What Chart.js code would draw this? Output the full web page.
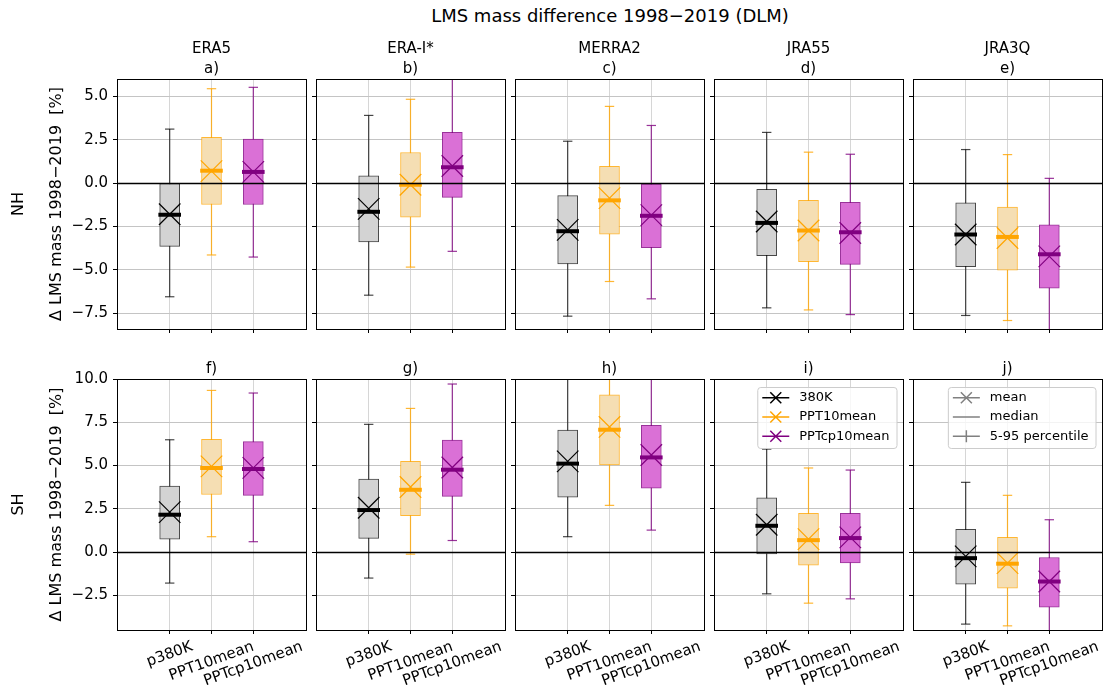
<!DOCTYPE html>
<html>
<head>
<meta charset="utf-8">
<script src="https://cdn.jsdelivr.net/npm/chart.js@4.4.1/dist/chart.umd.min.js"></script>
<style>
  body { margin: 0; background: #fff; }
  #wrap { position: relative; width: 1108px; height: 696px; overflow: hidden; font-family: 'DejaVu Sans', sans-serif; }
  #suptitle { position: absolute; left: 110px; width: 1000px; top: 5px; text-align: center; font-size: 18px; color: #000; }
</style>
</head>
<body>
<div id="wrap"><div id="suptitle">LMS mass difference 1998−2019 (DLM)</div></div>
<script>
/* LMS mass difference boxplots — 2 hemispheres x 5 reanalyses */

Chart.defaults.font.family = "'DejaVu Sans', sans-serif";
Chart.defaults.font.size = 15;
Chart.defaults.color = '#000';

var CATEGORIES = ['p380K', 'PPT10mean', 'PPTcp10mean'];
var REANALYSES = ['ERA5', 'ERA-I*', 'MERRA2', 'JRA55', 'JRA3Q'];
var LETTERS = [['a)', 'b)', 'c)', 'd)', 'e)'], ['f)', 'g)', 'h)', 'i)', 'j)']];
var ROW_LABELS = ['NH', 'SH'];
var Y_TITLE = 'Δ LMS mass 1998−2019  [%]';
var LEGEND_SERIES = ['380K', 'PPT10mean', 'PPTcp10mean'];
var LEGEND_STATS = ['mean', 'median', '5-95 percentile'];

// y ticks and ranges per row
var NH_TICKS = [-7.5, -5, -2.5, 0, 2.5, 5];
var SH_TICKS = [-2.5, 0, 2.5, 5, 7.5, 10];
var NH_RANGE = [-8.42, 6.0];
var SH_RANGE = [-4.5, 10.0];

// rows: ERA5, ERA-I*, MERRA2, JRA55, JRA3Q ; columns: p380K, PPT10mean, PPTcp10mean
var NH_P05  = [[-6.56, -4.15, -4.27], [-6.47, -4.85, -3.94], [-7.68, -5.68, -6.68], [-7.20, -7.32, -7.59], [-7.64, -7.93, -8.90]];
var NH_Q25  = [[-3.65, -1.24, -1.24], [-3.40, -1.97, -0.83], [-4.67, -2.95, -3.73], [-4.19, -4.54, -4.69], [-4.83, -5.02, -6.06]];
var NH_MED  = [[-1.83, 0.71, 0.64], [-1.66, -0.10, 0.91], [-2.78, -1.00, -1.89], [-2.30, -2.74, -2.84], [-2.97, -3.11, -4.11]];
var NH_MEAN = [[-1.80, 0.69, 0.64], [-1.49, -0.10, 0.98], [-2.70, -0.87, -1.85], [-2.22, -2.74, -2.88], [-2.97, -3.17, -4.23]];
var NH_Q75  = [[0.00, 2.63, 2.53], [0.42, 1.76, 2.92], [-0.73, 0.97, -0.06], [-0.37, -1.00, -1.12], [-1.14, -1.39, -2.41]];
var NH_P95  = [[3.11, 5.44, 5.52], [3.90, 4.83, 6.30], [2.41, 4.42, 3.32], [2.92, 1.78, 1.66], [1.93, 1.64, 0.27]];

var SH_P05  = [[-1.79, 0.89, 0.60], [-1.50, -0.12, 0.67], [0.89, 2.70, 1.27], [-2.41, -2.95, -2.70], [-4.16, -4.26, -4.90]];
var SH_Q25  = [[0.75, 3.33, 3.28], [0.79, 2.10, 3.22], [3.18, 5.03, 3.70], [-0.10, -0.75, -0.62], [-1.85, -2.08, -3.18]];
var SH_MED  = [[2.16, 4.86, 4.80], [2.43, 3.60, 4.76], [5.11, 7.07, 5.47], [1.52, 0.69, 0.81], [-0.35, -0.67, -1.70]];
var SH_MEAN = [[2.31, 4.95, 4.87], [2.56, 3.76, 4.89], [5.24, 7.23, 5.61], [1.58, 0.75, 0.85], [-0.25, -0.64, -1.70]];
var SH_Q75  = [[3.82, 6.51, 6.38], [4.22, 5.24, 6.47], [7.05, 9.09, 7.32], [3.14, 2.24, 2.24], [1.31, 0.85, -0.31]];
var SH_P95  = [[6.49, 9.34, 9.19], [7.38, 8.30, 9.71], [10.6, 10.9, 10.4], [5.95, 4.86, 4.74], [4.03, 3.28, 1.87]];

var ROWS = [
  { p05: NH_P05, q25: NH_Q25, med: NH_MED, mean: NH_MEAN, q75: NH_Q75, p95: NH_P95, ticks: NH_TICKS, range: NH_RANGE },
  { p05: SH_P05, q25: SH_Q25, med: SH_MED, mean: SH_MEAN, q75: SH_Q75, p95: SH_P95, ticks: SH_TICKS, range: SH_RANGE }
];

var MAIN = ['#000000', '#ffa500', '#800080'];
var EDGE = ['rgba(0,0,0,0.72)', 'rgba(255,165,0,0.8)', 'rgba(128,0,128,0.8)'];
var FILL = ['#d3d3d3', '#f5deb3', '#da70d6'];
var STAT_GRAY = '#808080';

// layout (px)
var COL_LEFT = [117, 316, 515, 714, 913];
var PANEL_W = 189;
var ROW_TOP = [79, 379];
var PANEL_H = [250, 251];
var CANVAS_TOP = [33, 355];
var CANVAS_BOTTOM = [352, 696];
var X_MIN = -1.26, X_MAX = 3.26;
var FONT = "15px 'DejaVu Sans', sans-serif";
var LABEL_FONT = "16px 'DejaVu Sans', sans-serif";
var LEGEND_FONT = "13px 'DejaVu Sans', sans-serif";

function fmtTick(v) {
  return (v < 0 ? '\u2212' : '') + Math.abs(v).toFixed(1);
}

function drawLegend(ctx, a, items) {
  ctx.font = LEGEND_FONT;
  var tw = 0;
  items.forEach(function(it) { tw = Math.max(tw, ctx.measureText(it.label).width); });
  var bw = 42 + tw + 7, bh = 61;
  var bx = a.right - 6.5 - bw, by = a.top + 8;
  ctx.fillStyle = 'rgba(255,255,255,0.8)';
  ctx.strokeStyle = '#cccccc';
  ctx.lineWidth = 1;
  ctx.beginPath();
  ctx.roundRect(bx + 0.5, by + 0.5, bw, bh, 3);
  ctx.fill();
  ctx.stroke();
  items.forEach(function(it, k) {
    var y = by + 10.7 + k * 19.3, mx = bx + 18.5;
    ctx.strokeStyle = it.color;
    ctx.lineWidth = 1.5;
    ctx.beginPath();
    ctx.moveTo(bx + 5, y); ctx.lineTo(bx + 32, y);
    if (it.marker === 'x') {
      ctx.moveTo(mx - 5.5, y - 5.5); ctx.lineTo(mx + 5.5, y + 5.5);
      ctx.moveTo(mx - 5.5, y + 5.5); ctx.lineTo(mx + 5.5, y - 5.5);
    } else if (it.marker === '|') {
      ctx.moveTo(mx, y - 6); ctx.lineTo(mx, y + 6);
    }
    ctx.stroke();
    ctx.fillStyle = '#000';
    ctx.textAlign = 'left';
    ctx.textBaseline = 'middle';
    ctx.fillText(it.label, bx + 42, y);
  });
}

var panelDeco = {
  id: 'panelDeco',
  afterDatasetsDraw: function(chart) {
    var a = chart.chartArea, ctx = chart.ctx;
    var y0 = Math.round(chart.scales.y.getPixelForValue(0)) + 0.5;
    ctx.save();
    ctx.strokeStyle = '#000';
    ctx.lineWidth = 1.3;
    ctx.beginPath();
    ctx.moveTo(a.left, y0); ctx.lineTo(a.right, y0);
    ctx.stroke();
    ctx.lineWidth = 1;
    ctx.strokeRect(Math.round(a.left) + 0.5, Math.round(a.top) + 0.5, Math.round(a.width), Math.round(a.height));
    ctx.restore();
  },
  afterDraw: function(chart, args, o) {
    var a = chart.chartArea, ctx = chart.ctx;
    ctx.save();
    ctx.font = FONT;
    ctx.fillStyle = '#000';
    ctx.textAlign = 'center';
    ctx.textBaseline = 'middle';
    var cx = (a.left + a.right) / 2;
    o.title.forEach(function(t, i) {
      ctx.fillText(t, cx, a.top - 10 - (o.title.length - 1 - i) * 19.5);
    });
    if (o.xLabels) {
      var xs = chart.scales.x, ang = 20 * Math.PI / 180;
      CATEGORIES.forEach(function(c, i) {
        var w = ctx.measureText(c).width;
        var bh = w * Math.sin(ang) + 17.5 * Math.cos(ang);
        ctx.save();
        ctx.translate(xs.getPixelForValue(i), a.bottom + 8 + bh / 2);
        ctx.rotate(-ang);
        ctx.fillText(c, 0, 0);
        ctx.restore();
      });
    }
    if (o.rowLabel) {
      var cy = (a.top + a.bottom) / 2;
      ctx.font = LABEL_FONT;
      [[o.rowLabel, 19], [Y_TITLE, 57]].forEach(function(p) {
        ctx.save();
        ctx.translate(p[1], cy);
        ctx.rotate(-Math.PI / 2);
        ctx.fillText(p[0], 0, 0);
        ctx.restore();
      });
    }
    if (o.legend) drawLegend(ctx, a, o.legend);
    ctx.restore();
  }
};

function pts(arr) {
  return arr.map(function(v, i) { return { x: i, y: v }; });
}

function makePanel(row, col) {
  var wrap = document.getElementById('wrap');
  var left = COL_LEFT[col], top = ROW_TOP[row], ph = PANEL_H[row];
  var cl = col === 0 ? 0 : left - 8, ct = CANVAS_TOP[row];
  var padL = left - cl, padT = top - ct, padR = 6;
  var cw = padL + PANEL_W + padR, chh = CANVAS_BOTTOM[row] - ct;
  var padB = chh - padT - ph;
  var cv = document.createElement('canvas');
  cv.width = cw; cv.height = chh;
  cv.style.cssText = 'position:absolute;left:' + cl + 'px;top:' + ct + 'px;width:' + cw + 'px;height:' + chh + 'px';
  wrap.appendChild(cv);

  var s = ROWS[row];
  var p05 = s.p05[col], q25 = s.q25[col], med = s.med[col], mean = s.mean[col], q75 = s.q75[col], p95 = s.p95[col];

  var datasets = [];
  CATEGORIES.forEach(function(c, i) {
    datasets.push({ type: 'line', data: [{ x: i, y: p05[i] }, { x: i, y: p95[i] }], borderColor: EDGE[i], borderWidth: 1.2, pointRadius: 0, order: 6, clip: 0 });
  });
  datasets.push({ type: 'line', data: pts(p05).concat(pts(p95)), showLine: false, pointStyle: 'line', pointRadius: 4.7, pointBorderWidth: 1.2, pointBorderColor: EDGE.concat(EDGE), order: 5, clip: 0 });
  datasets.push({ type: 'bar', data: q25.map(function(v, i) { return { x: i, y: [v, q75[i]] }; }), backgroundColor: FILL, borderColor: EDGE, borderWidth: 1, borderSkipped: false, barThickness: 20, order: 4, clip: 0 });
  datasets.push({ type: 'line', data: pts(med), showLine: false, pointStyle: 'line', pointRadius: 11.3, pointBorderWidth: 4, pointBorderColor: MAIN, order: 2, clip: 0 });
  datasets.push({ type: 'line', data: pts(mean), showLine: false, pointStyle: 'crossRot', pointRadius: 15.2, pointBorderWidth: 1.2, pointBorderColor: MAIN, pointBackgroundColor: 'rgba(0,0,0,0)', order: 1, clip: 0 });

  var legend = null;
  if (row === 1 && col === 3) {
    legend = LEGEND_SERIES.map(function(l, i) { return { label: l, color: MAIN[i], marker: 'x' }; });
  } else if (row === 1 && col === 4) {
    legend = LEGEND_STATS.map(function(l, i) { return { label: l, color: STAT_GRAY, marker: ['x', '', '|'][i] }; });
  }

  new Chart(cv, {
    type: 'bar',
    data: { datasets: datasets },
    options: {
      responsive: false, animation: false, events: [],
      layout: { autoPadding: false, padding: { left: 0, top: padT, right: padR, bottom: 0 } },
      plugins: {
        legend: { display: false }, tooltip: { enabled: false }, title: { display: false },
        panelDeco: {
          title: row === 0 ? [REANALYSES[col], LETTERS[row][col]] : [LETTERS[row][col]],
          xLabels: row === 1,
          rowLabel: col === 0 ? ROW_LABELS[row] : null,
          legend: legend
        }
      },
      scales: {
        x: {
          type: 'linear', min: X_MIN, max: X_MAX, offset: false,
          afterBuildTicks: function(sc) { sc.ticks = CATEGORIES.map(function(c, i) { return { value: i }; }); },
          afterFit: function(sc) { sc.height = padB; },
          ticks: { display: false },
          grid: { offset: false, color: '#d6d6d6', lineWidth: 1, drawTicks: true, tickLength: 4, tickColor: '#000', tickWidth: 1 },
          border: { display: false }
        },
        y: {
          type: 'linear', min: s.range[0], max: s.range[1],
          afterBuildTicks: function(sc) { sc.ticks = s.ticks.map(function(v) { return { value: v }; }); },
          afterFit: function(sc) { sc.width = padL; },
          ticks: { display: col === 0, padding: 5, color: '#000', font: { size: 15 }, callback: fmtTick },
          grid: { color: '#c4c4c4', lineWidth: 1, drawTicks: true, tickLength: 4, tickColor: '#000', tickWidth: 1 },
          border: { display: false }
        }
      }
    },
    plugins: [panelDeco]
  });
}

[0, 1].forEach(function(row) {
  REANALYSES.forEach(function(name, col) { makePanel(row, col); });
});
</script>
</body>
</html>
